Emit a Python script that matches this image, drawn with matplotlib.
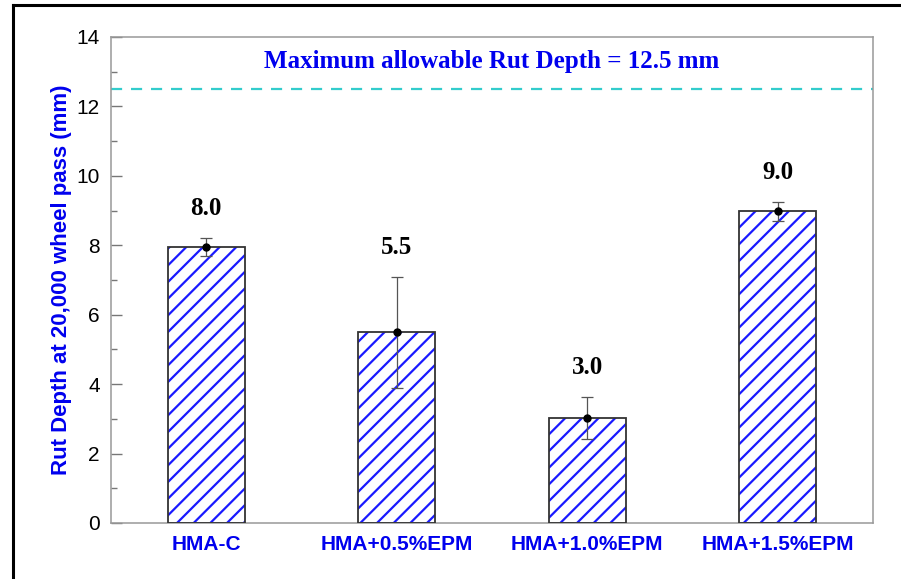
import numpy as np
import matplotlib
matplotlib.use("Agg")
import matplotlib.pyplot as plt
from matplotlib.lines import Line2D
from matplotlib.ticker import MultipleLocator

mixes = ["HMA-C", "HMA+0.5%EPM", "HMA+1.0%EPM", "HMA+1.5%EPM"]
rut_depth = [7.96, 5.5, 3.02, 8.98]
rut_err = [0.26, 1.6, 0.6, 0.27]
max_allowable = 12.5

plt.rcParams["font.family"] = "Liberation Sans"
plt.rcParams["hatch.linewidth"] = 1.6

fig = plt.figure(figsize=(9.01, 5.79), dpi=100)
ax = fig.add_axes([111 / 901, 1 - 523 / 579, 762 / 901, 486 / 579])

x = np.arange(1, len(mixes) + 1)
# hatch in blue, outline in black (two passes)
ax.bar(x, rut_depth, width=0.405, color="white", edgecolor="#1a1aff",
       hatch="//", linewidth=0, zorder=2)
ax.bar(x, rut_depth, width=0.405, color="none", edgecolor="#333333",
       linewidth=1.3, zorder=3)
ax.errorbar(x, rut_depth, yerr=rut_err, fmt="o", color="black", ms=5,
            ecolor="#555555", elinewidth=0.9, capsize=4, capthick=0.9, zorder=4)

for xi, v, e in zip(x, rut_depth, rut_err):
    ax.text(xi, v + e + 0.85, f"{v:.1f}", ha="center", va="center",
            fontsize=18, fontweight="bold", family="Liberation Serif")

ax.axhline(max_allowable, color="#33cccc", lw=1.6, ls=(0, (5, 4)), zorder=1)
ax.text(2.5, 13.28, f"Maximum allowable Rut Depth = {max_allowable} mm",
        ha="center", va="center", color="#0000ee", fontsize=18,
        fontweight="bold", family="Liberation Serif")

ax.set_xlim(0.5, 4.5)
ax.set_ylim(0, 14)
ax.set_xticks(x)
ax.set_xticklabels(mixes, color="#0000ee", fontweight="bold", fontsize=15)
ax.tick_params(axis="x", length=0, pad=9)
ax.yaxis.set_major_locator(MultipleLocator(2))
ax.yaxis.set_minor_locator(MultipleLocator(1))
ax.tick_params(axis="y", which="major", direction="in", length=8, width=1,
               color="#777777", labelsize=15, pad=8)
ax.tick_params(axis="y", which="minor", direction="in", length=4, width=1,
               color="#777777")
ax.set_ylabel("Rut Depth at 20,000 wheel pass (mm)", color="#0000ee",
              fontweight="bold", fontsize=16, labelpad=3)
for s in ax.spines.values():
    s.set_color("#999999")
    s.set_linewidth(1.1)

# frame lines along the top and left of the figure
fig.add_artist(Line2D([13 / 901, 1], [1 - 5 / 579] * 2, color="black", lw=2.2,
                      transform=fig.transFigure))
fig.add_artist(Line2D([13 / 901] * 2, [0, 1 - 5 / 579], color="black", lw=2.2,
                      transform=fig.transFigure))

fig.savefig("out.png", dpi=100)
